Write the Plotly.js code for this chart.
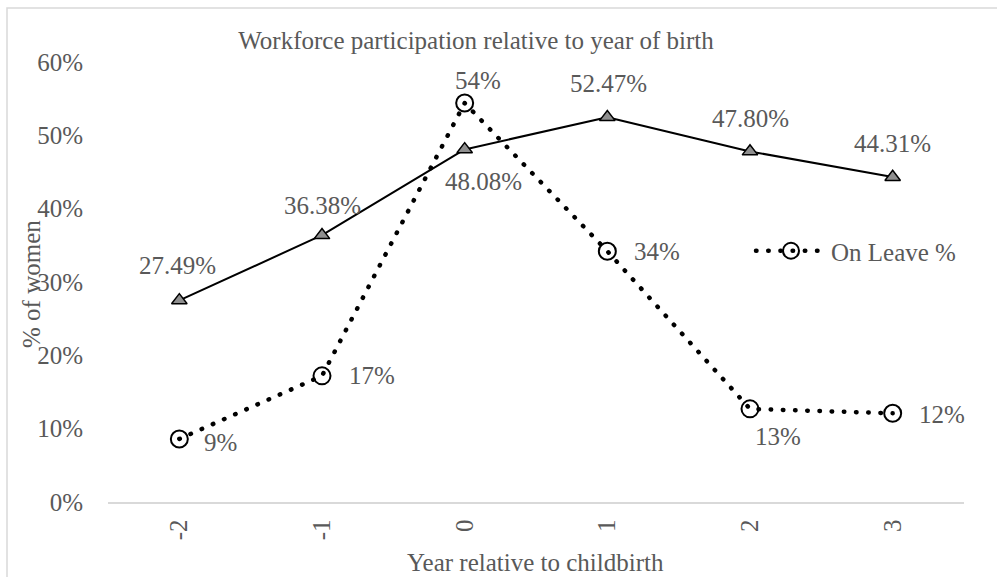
<!DOCTYPE html>
<html>
<head>
<meta charset="utf-8">
<script src="https://cdn.plot.ly/plotly-3.0.1.min.js"></script>
<style>
  html, body { margin: 0; padding: 0; background: #ffffff; }
  #chart { width: 997px; height: 577px; }
  /* round dots for the dotted series */
  path.js-line, .legendlines path { stroke-linecap: round; stroke-linejoin: round; }
</style>
</head>
<body>
<div id="chart"></div>
<script>
// Year relative to childbirth
const years = ['-2', '-1', '0', '1', '2', '3'];
// Share of women in the workforce
const participation = [0.2749, 0.3638, 0.4808, 0.5247, 0.4780, 0.4431];
// Share of women on leave
const onLeave = [0.086, 0.172, 0.544, 0.342, 0.127, 0.121];

const seriesNames = ['Workforce %', 'On Leave %'];
const chartTitle = 'Workforce participation relative to year of birth';
const xTitle = 'Year relative to childbirth';
const yTitle = '% of women';

// label offsets (px) from each point
const partLabelShift = [[-2, 35], [0, 30], [19, -32], [1, 34], [0, 33], [0, 34]];
const leaveLabelShift = [[41, -4], [50, 0], [13, 23], [50, 0], [28, -28], [49, -1]];

const W = 997, H = 577;
const M = { l: 108, r: 33, t: 62, b: 75 };
const pw = W - M.l - M.r, ph = H - M.t - M.b;
const px2x = px => (px - M.l) / pw;
const py2y = py => (H - M.b - py) / ph;

const textGrey = '#595959';
const font = { family: '"Liberation Serif", "Times New Roman", serif', size: 25, color: textGrey };

const pct2 = v => (v * 100).toFixed(2) + '%';
const pct0 = v => Math.round(v * 100) + '%';

const traces = [
  {
    x: years, y: participation, name: seriesNames[0], type: 'scatter', mode: 'lines+markers',
    showlegend: false,
    line: { color: '#000000', width: 2 },
    marker: { symbol: 'triangle-up', size: 13.5, color: '#8f8f8f', line: { color: '#000000', width: 1.5 } },
    hoverinfo: 'skip'
  },
  {
    x: years, y: onLeave, name: seriesNames[1], type: 'scatter', mode: 'lines+markers',
    line: { color: '#000000', width: 4.5, dash: '0.5px,11.7px' },
    marker: { symbol: 'circle-open', size: 17, color: '#000000', line: { color: '#000000', width: 2 } },
    hoverinfo: 'skip'
  }
];

// value labels; on a category axis the annotation x is the category index
const annotations = [];
years.forEach((yr, i) => {
  annotations.push({
    x: i, y: participation[i], xref: 'x', yref: 'y', text: pct2(participation[i]),
    showarrow: false, font: font, xanchor: 'center', yanchor: 'middle',
    xshift: partLabelShift[i][0], yshift: partLabelShift[i][1]
  });
  annotations.push({
    x: i, y: onLeave[i], xref: 'x', yref: 'y', text: pct0(onLeave[i]),
    showarrow: false, font: font, xanchor: 'center', yanchor: 'middle',
    xshift: leaveLabelShift[i][0], yshift: leaveLabelShift[i][1]
  });
});
annotations.push({
  text: xTitle, xref: 'paper', yref: 'paper', x: px2x(535), y: py2y(562),
  showarrow: false, font: font, xanchor: 'center', yanchor: 'middle'
});
annotations.push({
  text: yTitle, xref: 'paper', yref: 'paper', x: px2x(31), y: py2y(284),
  showarrow: false, font: font, xanchor: 'center', yanchor: 'middle', textangle: -90
});

const layout = {
  width: W, height: H,
  margin: M,
  paper_bgcolor: '#ffffff', plot_bgcolor: '#ffffff',
  font: font,
  title: {
    text: chartTitle, font: font,
    x: 476 / W, xanchor: 'center', xref: 'container',
    y: 1 - 40 / H, yanchor: 'middle', yref: 'container'
  },
  xaxis: {
    type: 'category', range: [-0.5, years.length - 0.5], showgrid: false, zeroline: false,
    showline: true, linecolor: '#d9d9d9', linewidth: 1.5,
    ticks: '', tickangle: -90, tickfont: font, ticklabelstandoff: 6,
    fixedrange: true
  },
  yaxis: {
    range: [0, 0.6], dtick: 0.1, tickformat: '.0%',
    showgrid: false, zeroline: false, showline: false, ticks: '',
    tickfont: font, ticklabelstandoff: 24, fixedrange: true
  },
  legend: {
    x: px2x(751), xanchor: 'left', y: py2y(251), yanchor: 'middle',
    font: font, itemwidth: 70, bgcolor: 'rgba(0,0,0,0)'
  },
  showlegend: true,
  annotations: annotations,
  shapes: [{
    type: 'rect', xref: 'paper', yref: 'paper',
    x0: px2x(7), x1: px2x(1100), y0: py2y(700), y1: py2y(8),
    line: { color: '#d9d9d9', width: 1.5 }, fillcolor: 'rgba(0,0,0,0)', layer: 'below'
  }]
};

Plotly.newPlot('chart', traces, layout, { staticPlot: true, displayModeBar: false });
</script>
</body>
</html>
